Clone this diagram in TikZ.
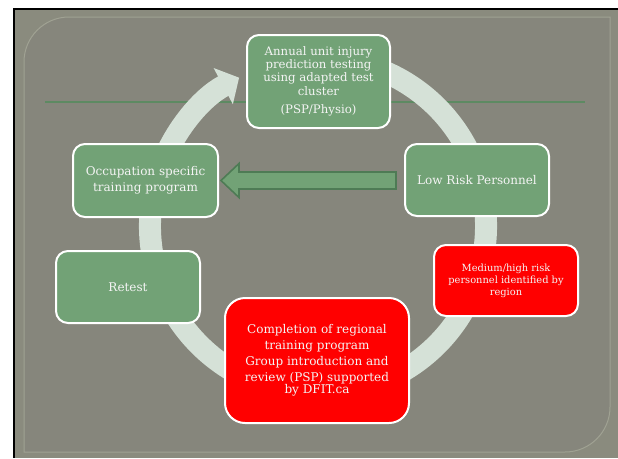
\documentclass[tikz,border=0pt]{standalone}
\usepackage{fontspec}
\setmainfont{DejaVu Serif}
\usetikzlibrary{arrows.meta}

\definecolor{slidegray}{HTML}{8A8B7E}
\definecolor{panelgray}{HTML}{86867C}
\definecolor{paneledge}{HTML}{A0A293}
\definecolor{boxgreen}{HTML}{72A276}
\definecolor{arrowgreen}{HTML}{4E7B55}
\definecolor{linegreen}{HTML}{5D8A62}
\definecolor{ringcol}{HTML}{D5E1D7}
\definecolor{boxred}{HTML}{FF0000}
\definecolor{textcol}{HTML}{F4F4F4}

\tikzset{
  greenbox/.style={draw=white, line width=1.5pt, fill=boxgreen, rounded corners=9pt,
    text=textcol, align=center, inner sep=0pt},
  redbox/.style={greenbox, fill=boxred},
}

\begin{document}
\begin{tikzpicture}[x=0.75pt,y=-0.75pt]
  \useasboundingbox (0,0) rectangle (618,458);
  \fill[white] (0,0) rectangle (618,458);
  \fill[black] (13,8) rectangle (618,458);
  \fill[slidegray] (15,10) rectangle (618,458);

  % panel
  \draw[paneledge, fill=panelgray, line width=0.75pt]
    (24,452) -- (24,62) arc[start angle=180, end angle=270, radius=45]
    -- (610,17) -- (610,407) arc[start angle=0, end angle=90, radius=45] -- cycle;
  \draw[linegreen, line width=1.5pt] (45,102) -- (585,102);

  % cycle
  \draw[ringcol, line width=16.5pt, -{Triangle[length=13.5pt, width=30pt]}]
    (318,226) ++(-72:168) arc[start angle=-72, end angle=242, radius=168];

  \begin{scope}[font=\fontsize{8.8}{10}\selectfont]
    \node[greenbox, minimum width=107.25pt, minimum height=69.75pt] (annual) at (318.5,81.5)
      {Annual unit injury\\prediction testing\\using adapted test\\cluster\\[4pt](PSP/Physio)};
  \end{scope}

  \begin{scope}[font=\fontsize{9}{12}\selectfont]
    \node[greenbox, minimum width=108.75pt, minimum height=54.75pt] (occupation) at (145.5,180.5)
      {Occupation specific\\training program};
    \node[greenbox, minimum width=108pt, minimum height=54pt] (lowrisk) at (477,180)
      {Low Risk Personnel};
    \node[greenbox, minimum width=108pt, minimum height=54pt] (retest) at (128,287)
      {Retest};
    \node[redbox, rounded corners=15pt, minimum width=138pt, minimum height=93.75pt] (completion) at (317,360.5)
      {Completion of regional\\training program\\Group introduction and\\review (PSP) supported\\[-3pt]by DFIT.ca};
  \end{scope}

  \begin{scope}[font=\fontsize{7.4}{9}\selectfont]
    \node[redbox, minimum width=108pt, minimum height=53.25pt] (medium) at (506,280.5)
      {Medium/high risk\\personnel identified by\\region};
  \end{scope}

  \draw[arrowgreen, fill=boxgreen, line width=1.2pt] ([xshift=1.5pt]occupation.east)
    -- ++(18,-17) -- ++(0,8.5) -- ++(157,0) -- ++(0,17) -- ++(-157,0) -- ++(0,8.5) -- cycle;
\end{tikzpicture}
\end{document}
